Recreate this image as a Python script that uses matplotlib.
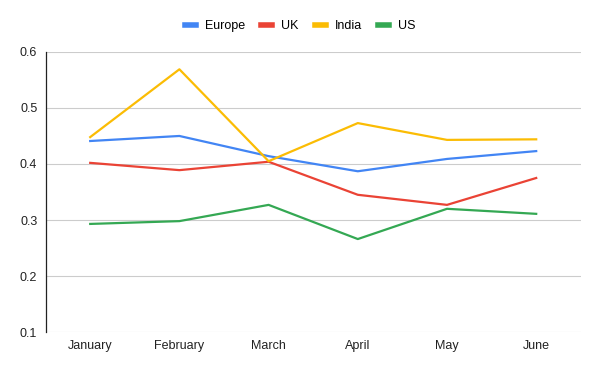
import matplotlib
matplotlib.use("Agg")
import matplotlib.pyplot as plt

months = ["January", "February", "March", "April", "May", "June"]
europe = [0.441, 0.450, 0.414, 0.387, 0.409, 0.423]
uk = [0.402, 0.389, 0.404, 0.345, 0.327, 0.375]
india = [0.448, 0.569, 0.405, 0.473, 0.443, 0.444]
us = [0.293, 0.298, 0.327, 0.266, 0.320, 0.311]
yticks = [0.1, 0.2, 0.3, 0.4, 0.5, 0.6]

plt.rcParams['font.family'] = ['Liberation Sans', 'DejaVu Sans']

fig = plt.figure(figsize=(6, 3.71), dpi=100)
ax = fig.add_axes([0.076, 0.105, 0.892, 0.755])

series = [("Europe", europe, "#4285F4"), ("UK", uk, "#EA4335"),
          ("India", india, "#FBBC04"), ("US", us, "#34A853")]
x = list(range(len(months)))
for name, vals, c in series:
    ax.plot(x, vals, color=c, lw=1.6, label=name)

ax.set_xlim(-0.5, 5.5)
ax.set_ylim(0.1, 0.6)
ax.set_yticks(yticks)
ax.set_yticklabels([f"{v:.1f}" for v in yticks])
ax.set_xticks(x)
ax.set_xticklabels(months)
ax.grid(axis='y', color='#cccccc', lw=0.8)
ax.set_axisbelow(True)
for s in ['top', 'right', 'bottom']:
    ax.spines[s].set_visible(False)
ax.spines['left'].set_color('#222222')
ax.spines['left'].set_linewidth(0.9)
ax.tick_params(axis='both', length=0, labelsize=9, colors='#222222', pad=6)

leg = fig.legend(loc='center', bbox_to_anchor=(0.5, 0.93), ncol=4, frameon=False,
                 fontsize=9, handlelength=0.9, handletextpad=0.7, columnspacing=1.3)
for h in leg.get_lines():
    h.set_linewidth(4)

fig.savefig("out.png", dpi=100)
